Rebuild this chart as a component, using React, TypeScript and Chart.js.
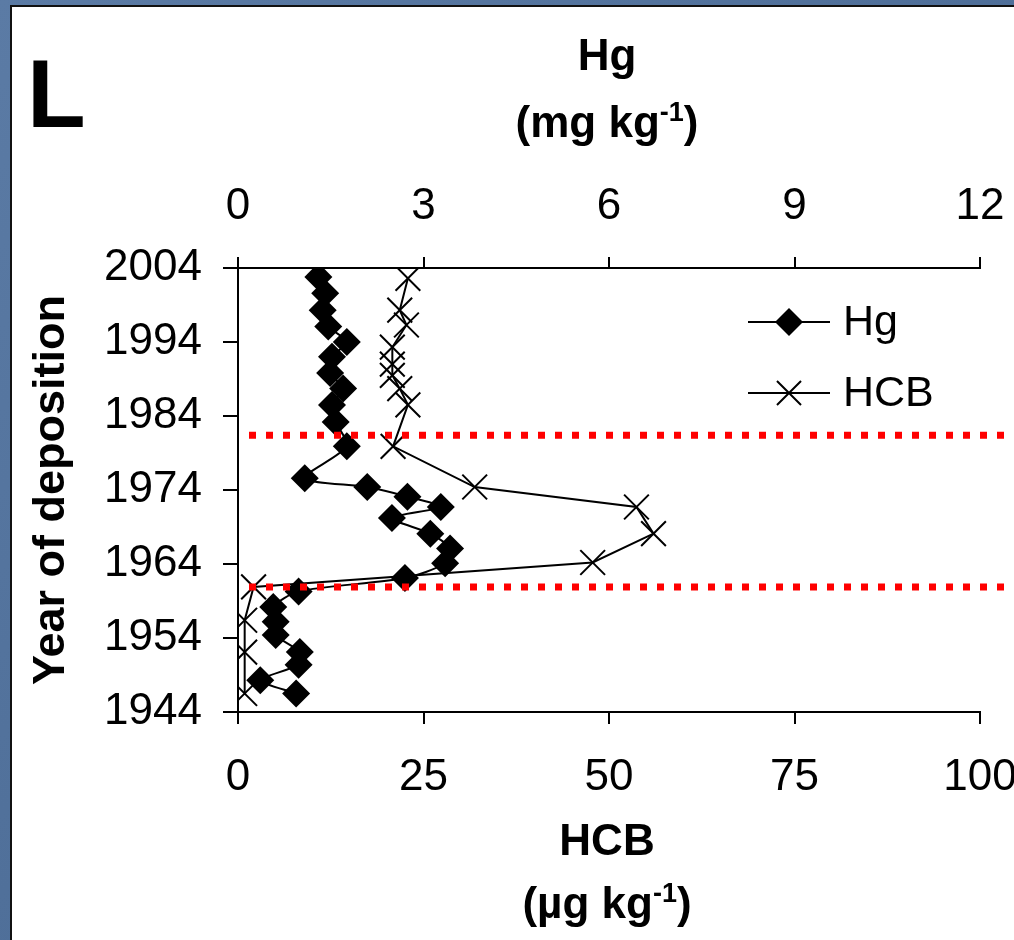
import React, { useEffect, useRef } from 'react';
import { Chart, registerables } from 'chart.js';

Chart.register(...registerables);

const FONT = '"Liberation Sans", Arial, Helvetica, sans-serif';

const yearTicks = [1944, 1954, 1964, 1974, 1984, 1994, 2004];
const hcbTicks = [0, 25, 50, 75, 100];
const hgTicks = [0, 3, 6, 9, 12];

const hgYears = [2002.8, 2000.6, 1998.3, 1996.1, 1994.0, 1992.0, 1989.8, 1987.7, 1985.5, 1983.2, 1979.9, 1975.6, 1974.4, 1973.1, 1971.7, 1970.2, 1968.1, 1966.1, 1964.1, 1962.1, 1960.3, 1958.2, 1956.2, 1954.4, 1952.1, 1950.4, 1948.3, 1946.5];
const hgValues = [1.30, 1.41, 1.37, 1.46, 1.76, 1.52, 1.49, 1.70, 1.52, 1.58, 1.76, 1.08, 2.09, 2.74, 3.28, 2.49, 3.11, 3.43, 3.35, 2.70, 0.98, 0.57, 0.61, 0.61, 1.00, 0.98, 0.36, 0.94];

const hcbYears = [2002.6, 1998.3, 1996.3, 1993.3, 1991.0, 1989.5, 1987.7, 1985.5, 1979.9, 1974.4, 1971.7, 1968.1, 1964.2, 1960.9, 1956.4, 1952.1, 1946.5];
const hcbValues = [22.9, 21.8, 22.7, 20.8, 20.8, 20.8, 21.8, 22.9, 20.9, 31.9, 53.7, 56.0, 47.8, 2.1, 0.9, 0.9, 0.9];

const boundaryYears = [1981.4, 1960.9];

const seriesLabels = ['Hg', 'HCB'];
const panelLetter = 'L';
const yTitle = 'Year of deposition';
const topTitle = ['Hg', '(mg kg', '-1', ')'];
const bottomTitle = ['HCB', '(\u00b5g kg', '-1', ')'];

function drawDiamond(ctx: CanvasRenderingContext2D, x: number, y: number, r: number) {
  ctx.beginPath();
  ctx.moveTo(x - r, y);
  ctx.lineTo(x, y - r);
  ctx.lineTo(x + r, y);
  ctx.lineTo(x, y + r);
  ctx.closePath();
  ctx.fill();
}

function drawCross(ctx: CanvasRenderingContext2D, x: number, y: number, r: number) {
  const d = r * Math.SQRT1_2;
  ctx.beginPath();
  ctx.moveTo(x - d, y - d);
  ctx.lineTo(x + d, y + d);
  ctx.moveTo(x + d, y - d);
  ctx.lineTo(x - d, y + d);
  ctx.stroke();
}

function drawUnitTitle(ctx: CanvasRenderingContext2D, cx: number, line1Base: number, line2Base: number, parts: string[]) {
  const big = `bold 44px ${FONT}`;
  const small = `bold 27px ${FONT}`;
  ctx.fillStyle = '#000';
  ctx.textBaseline = 'alphabetic';
  ctx.textAlign = 'center';
  ctx.font = big;
  ctx.fillText(parts[0], cx, line1Base);
  ctx.textAlign = 'left';
  const w1 = ctx.measureText(parts[1]).width;
  const w3 = ctx.measureText(parts[3]).width;
  ctx.font = small;
  const w2 = ctx.measureText(parts[2]).width;
  let x = cx - (w1 + w2 + w3) / 2;
  ctx.font = big;
  ctx.fillText(parts[1], x, line2Base);
  x += w1;
  ctx.font = small;
  ctx.fillText(parts[2], x, line2Base - 16);
  x += w2;
  ctx.font = big;
  ctx.fillText(parts[3], x, line2Base);
}

const decorPlugin = {
  id: 'decor',
  afterDatasetsDraw(chart: any) {
    const ctx: CanvasRenderingContext2D = chart.ctx;
    const { left, right, top } = chart.chartArea;
    const yScale = chart.scales.y;
    ctx.save();
    ctx.strokeStyle = '#ff0000';
    ctx.lineWidth = 7;
    ctx.setLineDash([7, 10]);
    boundaryYears.forEach((yr) => {
      const py = yScale.getPixelForValue(yr);
      ctx.beginPath();
      ctx.moveTo(left + 11, py);
      ctx.lineTo(right + 24, py);
      ctx.stroke();
    });
    ctx.restore();

    // legend
    ctx.save();
    const rows = [top + 54, top + 125];
    seriesLabels.forEach((lab, i) => {
      const ly = rows[i];
      ctx.strokeStyle = '#000';
      ctx.lineWidth = 2;
      ctx.beginPath();
      ctx.moveTo(right - 232, ly);
      ctx.lineTo(right - 150, ly);
      ctx.stroke();
      ctx.fillStyle = '#000';
      if (i === 0) drawDiamond(ctx, right - 191, ly, 14);
      else { ctx.lineWidth = 2; drawCross(ctx, right - 191, ly, 17); }
      ctx.font = `43px ${FONT}`;
      ctx.textAlign = 'left';
      ctx.textBaseline = 'middle';
      ctx.fillText(lab, right - 137, ly + 1);
    });
    ctx.restore();

    // titles
    ctx.save();
    const cx = (left + right) / 2 - 2;
    drawUnitTitle(ctx, cx, 70, 137, topTitle);
    drawUnitTitle(ctx, cx, 855, 918, bottomTitle);
    ctx.font = `bold 96px ${FONT}`;
    ctx.textAlign = 'left';
    ctx.textBaseline = 'alphabetic';
    ctx.fillStyle = '#000';
    ctx.fillText(panelLetter, 27, 127);
    ctx.restore();
  },
};

export default function App() {
  const ref = useRef<HTMLCanvasElement | null>(null);

  useEffect(() => {
    if (!ref.current) return;
    const tickFont = { family: FONT, size: 44 };
    const chart = new Chart(ref.current, {
      type: 'scatter',
      data: {
        datasets: [
          {
            label: seriesLabels[0],
            data: hgYears.map((yr, i) => ({ x: hgValues[i], y: yr })),
            xAxisID: 'xHg',
            yAxisID: 'y',
            showLine: true,
            tension: 0.25,
            borderColor: '#000',
            borderWidth: 2,
            backgroundColor: '#000',
            pointStyle: 'rectRot',
            pointRadius: 14,
            pointBorderWidth: 0,
            pointBackgroundColor: '#000',
            order: 1,
          },
          {
            label: seriesLabels[1],
            data: hcbYears.map((yr, i) => ({ x: hcbValues[i], y: yr })),
            xAxisID: 'x',
            yAxisID: 'y',
            showLine: true,
            tension: 0,
            borderColor: '#000',
            borderWidth: 2,
            backgroundColor: 'transparent',
            pointStyle: 'crossRot',
            pointRadius: 17.5,
            pointBorderWidth: 2,
            pointBorderColor: '#000',
            order: 2,
          },
        ],
      },
      options: {
        responsive: false,
        animation: false,
        devicePixelRatio: 1,
        layout: { padding: { left: 0, top: 0, right: 34, bottom: 0 }, autoPadding: false },
        plugins: { legend: { display: false }, tooltip: { enabled: false } },
        scales: {
          x: {
            type: 'linear',
            position: 'bottom',
            min: 0,
            max: 100,
            afterBuildTicks: (s: any) => { s.ticks = hcbTicks.map((v) => ({ value: v })); },
            afterFit: (s: any) => { s.height = 228; s.paddingLeft = 0; s.paddingRight = 0; },
            ticks: { font: tickFont, color: '#000', padding: 27, maxRotation: 0, autoSkip: false, callback: (v: any) => String(v) },
            grid: { drawOnChartArea: false, drawTicks: true, tickLength: 12, color: '#000', lineWidth: 2 },
            border: { display: true, color: '#000', width: 2 },
          },
          xHg: {
            type: 'linear',
            position: 'top',
            min: 0,
            max: 12,
            afterBuildTicks: (s: any) => { s.ticks = hgTicks.map((v) => ({ value: v })); },
            afterFit: (s: any) => { s.height = 268; s.paddingLeft = 0; s.paddingRight = 0; },
            ticks: { font: tickFont, color: '#000', padding: 24, maxRotation: 0, autoSkip: false, callback: (v: any) => String(v) },
            grid: { drawOnChartArea: false, drawTicks: true, tickLength: 11, color: '#000', lineWidth: 2 },
            border: { display: true, color: '#000', width: 2 },
          },
          y: {
            type: 'linear',
            position: 'left',
            min: 1944,
            max: 2004,
            afterBuildTicks: (s: any) => { s.ticks = yearTicks.map((v) => ({ value: v })); },
            afterFit: (s: any) => { s.width = 238; s.paddingTop = 0; s.paddingBottom = 0; },
            ticks: { font: tickFont, color: '#000', padding: 21, autoSkip: false, callback: (v: any) => String(v) },
            grid: { drawOnChartArea: false, drawTicks: true, tickLength: 15, color: '#000', lineWidth: 2 },
            border: { display: true, color: '#000', width: 2 },
            title: {
              display: true,
              text: yTitle,
              color: '#000',
              font: { family: FONT, size: 45, weight: 'bold' },
              padding: { top: 25, bottom: 0 },
            },
          },
        },
      },
      plugins: [decorPlugin],
    } as any);
    return () => chart.destroy();
  }, []);

  return (
    <div style={{ position: 'absolute', left: 0, top: 0, width: 1014, height: 940, overflow: 'hidden', background: 'linear-gradient(135deg, #5b7ba5 0%, #4f6f99 50%, #5a7aa4 100%)' }}>
      <div style={{ position: 'absolute', left: 10, top: 5, width: 1030, height: 960, background: '#fff', borderLeft: '2px solid #111', borderTop: '2px solid #111' }} />
      <canvas ref={ref} width={1014} height={940} style={{ position: 'absolute', left: 0, top: 0, width: 1014, height: 940 }} />
    </div>
  );
}
